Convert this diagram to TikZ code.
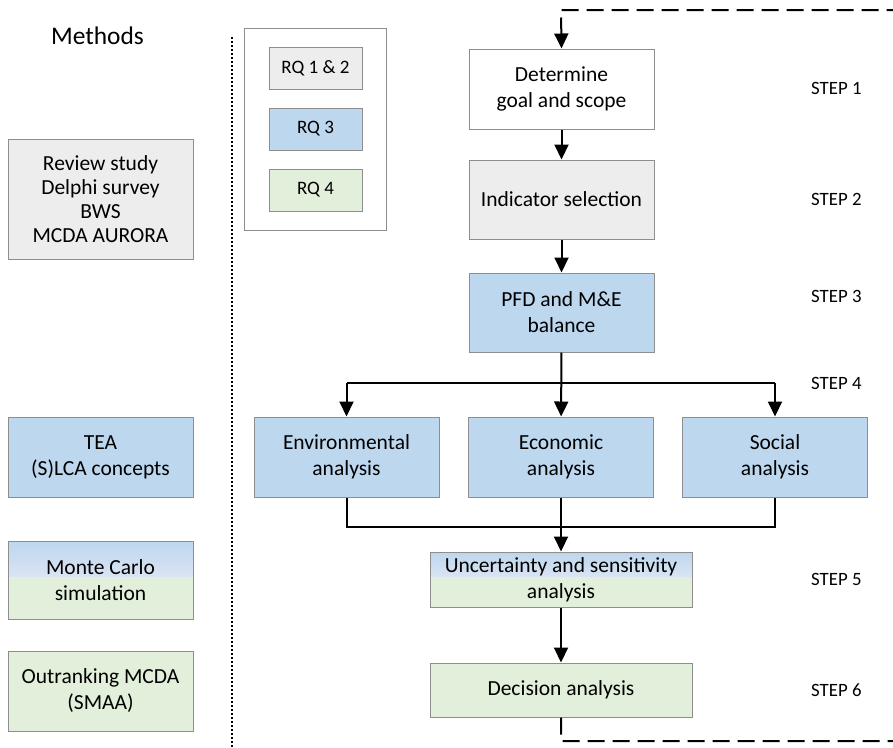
\documentclass[tikz,border=0pt]{standalone}
\usepackage{fontspec}
\setmainfont{Carlito}
\usetikzlibrary{arrows.meta,calc}

\definecolor{cgray}{HTML}{EDEDED}
\definecolor{cblue}{HTML}{BDD7EE}
\definecolor{clav}{HTML}{DAE3F3}
\definecolor{cgreen}{HTML}{E2EFDA}
\definecolor{cedge}{HTML}{8E8E8E}

\tikzset{
  box/.style={draw=cedge, line width=1pt, inner sep=0pt, align=center,
    font=\fontsize{21.5}{26}\selectfont},
  graybox/.style={box, fill=cgray},
  bluebox/.style={box, fill=cblue},
  greenbox/.style={box, fill=cgreen},
  whitebox/.style={box, fill=white},
  mixbox/.style={box, path picture={
      \fill[cgreen] (path picture bounding box.south west) rectangle
        ($(path picture bounding box.south east)!0.55!(path picture bounding box.north east)$);
      \shade[top color=cblue, bottom color=clav]
        ($(path picture bounding box.south west)!0.55!(path picture bounding box.north west)$)
        rectangle (path picture bounding box.north east);
  }},
  rqbox/.style={box, minimum width=93pt, minimum height=42pt,
    font=\fontsize{19}{22}\selectfont},
  steplabel/.style={anchor=west, inner sep=0pt, font=\fontsize{18.8}{22}\selectfont},
  conn/.style={line width=2pt},
  arr/.style={conn, -{Triangle[length=15pt,width=14pt]}},
  loopline/.style={line width=2pt, dash pattern=on 17pt off 8pt,
    -{Triangle[length=15pt,width=14pt]}},
}

\begin{document}
\begin{tikzpicture}[x=1pt, y=-1pt]
\useasboundingbox (0,0) rectangle (893,747);

% Methods column
\node[inner sep=0pt, font=\fontsize{25.4}{30}\selectfont] (methods) at (97.5,36) {Methods};
\node[graybox, minimum width=185pt, minimum height=120pt] (review) at (100.5,199)
  {Review study\\[-1.8pt]Delphi survey\\[-1.8pt]BWS\\[-1.8pt]MCDA AURORA};
\node[bluebox, minimum width=185pt, minimum height=80pt] (tea) at (100.5,457)
  {TEA\\(S)LCA concepts};
\node[mixbox, minimum width=185pt, minimum height=78pt] (mc) at (100.5,580)
  {Monte Carlo\\simulation};
\node[greenbox, minimum width=185pt, minimum height=80pt] (outrank) at (100.5,691)
  {Outranking MCDA\\(SMAA)};

% Separator
\coordinate (sepTop) at (232,37);
\coordinate (sepBot) at (232,747);
\draw[line width=2.6pt, dash pattern=on 2.4pt off 1.6pt] (sepTop) -- (sepBot);

% Legend
\node[draw=cedge, line width=1pt, fill=white, minimum width=142pt, minimum height=202pt,
  inner sep=0pt] (legend) at (315,129) {};
\node[rqbox, fill=cgray] (rq12) at (315.5,68) {RQ 1 \& 2};
\node[rqbox, fill=cblue] (rq3) at (315.5,129) {RQ 3};
\node[rqbox, fill=cgreen] (rq4) at (315.5,190) {RQ 4};

% Framework steps
\node[whitebox, minimum width=185pt, minimum height=80pt] (goal) at (561.5,89)
  {Determine\\goal and scope};
\node[graybox, minimum width=185pt, minimum height=79pt] (ind) at (561.5,199.5)
  {Indicator selection};
\node[bluebox, minimum width=185pt, minimum height=79pt] (pfd) at (561.5,312.5)
  {PFD and M\&E\\balance};
\node[bluebox, minimum width=185pt, minimum height=80pt] (env) at (346.5,457)
  {Environmental\\analysis};
\node[bluebox, minimum width=185pt, minimum height=80pt] (eco) at (561,457)
  {Economic\\analysis};
\node[bluebox, minimum width=185pt, minimum height=80pt] (soc) at (775,457)
  {Social\\analysis};
\node[mixbox, minimum width=262pt, minimum height=55pt] (unc) at (561,579.5)
  {Uncertainty and sensitivity\\analysis};
\node[greenbox, minimum width=262pt, minimum height=54pt] (dec) at (561,690)
  {Decision analysis};

% Step labels
\node[steplabel] (s1) at (811,88) {STEP 1};
\node[steplabel] (s2) at (811,199) {STEP 2};
\node[steplabel] (s3) at (811,296) {STEP 3};
\node[steplabel] (s4) at (811,383) {STEP 4};
\node[steplabel] (s5) at (811,579) {STEP 5};
\node[steplabel] (s6) at (811,690) {STEP 6};

% Connectors
\draw[arr] (goal) -- (ind);
\draw[arr] (ind) -- (pfd);
\draw[arr] (pfd) -- (eco);
\coordinate (split) at (561,383);
\draw[conn] (env.north |- split) -- (soc.north |- split);
\draw[arr] (env.north |- split) -- (env.north);
\draw[arr] (soc.north |- split) -- (soc.north);
\coordinate (merge) at (561,527);
\draw[conn] (env.south) |- (merge) -| (soc.south);
\draw[arr] (eco) -- (unc);
\draw[arr] (unc) -- (dec);

% Feedback loop
\coordinate (fb1) at (561,741);
\coordinate (fb2) at (905,741);
\coordinate (fb3) at (905,10);
\coordinate (fb4) at (561,10);
\draw[loopline] (dec.south) -- (fb1) -- (fb2) -- (fb3) -- (fb4) -- (goal.north);
\end{tikzpicture}
\end{document}
